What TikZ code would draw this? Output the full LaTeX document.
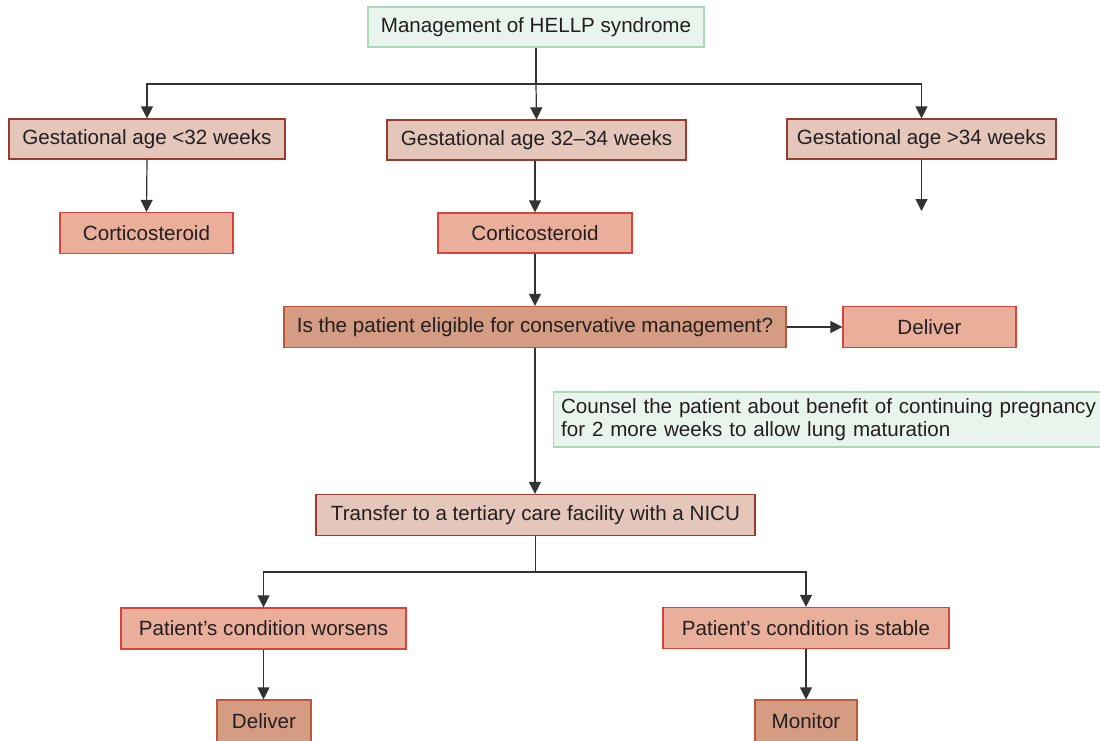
\documentclass[tikz,border=0pt]{standalone}
\usepackage{fontspec}
\setmainfont{Liberation Sans}
\usetikzlibrary{arrows.meta}
\definecolor{txt}{HTML}{231F20}
\definecolor{greenfill}{HTML}{E9F5EC}
\definecolor{greenline}{HTML}{A9D9B9}
\definecolor{gestfill}{HTML}{E4C6BA}
\definecolor{gestline}{HTML}{9B3A2E}
\definecolor{corfill}{HTML}{EAAF9A}
\definecolor{corline}{HTML}{D8443A}
\definecolor{darkfill}{HTML}{D49C82}
\definecolor{darkline}{HTML}{C0553A}
\definecolor{arr}{HTML}{333333}
\tikzset{
  base/.style={draw, line width=1.2pt, inner sep=0pt, text=txt, font=\fontsize{20.6}{23}\selectfont, anchor=center},
  greenbox/.style={base, fill=greenfill, draw=greenline},
  gestbox/.style={base, fill=gestfill, draw=gestline},
  corbox/.style={base, fill=corfill, draw=corline},
  darkbox/.style={base, fill=darkfill, draw=darkline},
  conn/.style={draw=arr, line width=1.2pt},
  arrowc/.style={conn, -{Triangle[length=12pt,width=12pt]}},
}
\begin{document}
\begin{tikzpicture}[x=1pt,y=-1pt]
\useasboundingbox (0,0) rectangle (1100,740);
% nodes
\node[greenbox, minimum width=336, minimum height=40] (top) at (536,27) {Management of HELLP syndrome};
\node[gestbox, minimum width=276, minimum height=40] (g1) at (147,139) {Gestational age <32 weeks};
\node[gestbox, minimum width=299, minimum height=40] (g2) at (536.5,140) {Gestational age 32–34 weeks};
\node[gestbox, minimum width=269, minimum height=40] (g3) at (921.5,139) {Gestational age >34 weeks};
\node[corbox, minimum width=173, minimum height=41] (c1) at (146.5,233) {Corticosteroid};
\node[corbox, minimum width=194, minimum height=40] (c2) at (535,233) {Corticosteroid};
\node[darkbox, minimum width=502, minimum height=41] (elig) at (535,327) {Is the patient eligible for conservative management?};
\node[corbox, minimum width=173, minimum height=41] (del1) at (929.5,327) {Deliver};
\node[greenbox, minimum width=555, minimum height=55, text width=539, align=left, anchor=west] (couns) at (552.5,419.5) {Counsel the patient about benefit of continuing pregnancy\\for 2 more weeks to allow lung maturation};
\node[gestbox, minimum width=439, minimum height=41] (trans) at (535.5,515) {Transfer to a tertiary care facility with a NICU};
\node[corbox, minimum width=285, minimum height=41] (worse) at (263.5,628.5) {Patient’s condition worsens};
\node[corbox, minimum width=286, minimum height=41] (stable) at (806,628) {Patient’s condition is stable};
\node[darkbox, minimum width=94, minimum height=42] (del2) at (264,721) {Deliver};
\node[darkbox, minimum width=102, minimum height=42] (mon) at (806,721) {Monitor};
% coordinates
\coordinate (split1) at (536,84);
\coordinate (free3) at (921.5,211);
\coordinate (split2) at (535.5,572);
% connectors
\draw[conn] (top.south) -- (split1);
\draw[arrowc] (split1) -| (g1.north);
\draw[arrowc] (split1) -- (g2.north);
\draw[arrowc] (split1) -| (g3.north);
\draw[arrowc] (g1.south) -- (c1.north);
\draw[arrowc] (g2.south -| c2.north) -- (c2.north);
\draw[arrowc] (g3.south) -- (free3);
\draw[arrowc] (c2.south) -- (elig.north);
\draw[arrowc] (elig.east) -- (del1.west);
\draw[arrowc] (elig.south) -- (trans.north -| elig.south);
\draw[conn] (trans.south) -- (split2);
\draw[arrowc] (split2) -| (worse.north);
\draw[arrowc] (split2) -| (stable.north);
\draw[arrowc] (worse.south) -- (del2.north -| worse.south);
\draw[arrowc] (stable.south) -- (mon.north);
\end{tikzpicture}
\end{document}
